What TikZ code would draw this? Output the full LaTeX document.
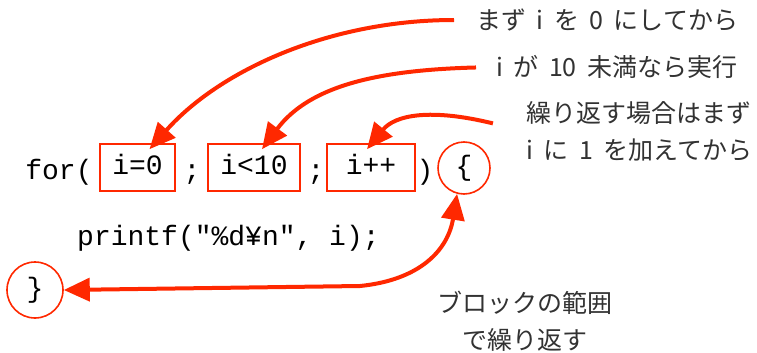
\documentclass[tikz,border=0pt]{standalone}
\usepackage{fontspec}
\setmainfont{Noto Sans CJK JP}
\newfontfamily\codefont{Liberation Mono}
\usetikzlibrary{arrows.meta}
\definecolor{loopred}{RGB}{255,40,0}
\definecolor{notegray}{RGB}{50,50,50}
\newcommand\gap{\hspace{.42em}}
\begin{document}
\begin{tikzpicture}[x=1pt, y=-1pt, >={Triangle[length=26pt,width=23pt]},
  code/.style={inner sep=0pt, font=\codefont\fontsize{28}{30}\selectfont, text height=20pt, text depth=6pt},
  codebox/.style={code, draw=loopred, line width=1.6pt, minimum height=47pt},
  brace/.style={code, draw=loopred, line width=1.6pt, circle, minimum size=52pt},
  note/.style={inner sep=2pt, text=notegray, font=\fontsize{25}{37}\selectfont},
  pointer/.style={->, draw=loopred, line width=4pt}]
\useasboundingbox (0,0) rectangle (757,353);
% the for statement
\node[code] (forkw) at (59,172) {for(};
\node[codebox, minimum width=75pt] (init) at (137.5,167.5) {i=0};
\node[code] (semi1) at (192,172) {;};
\node[codebox, minimum width=92pt] (cond) at (254,167.5) {i<10};
\node[code] (semi2) at (316,172) {;};
\node[codebox, minimum width=88pt] (step) at (371,167.5) {i++};
\node[code] (close) at (425,172) {)};
\node[brace] (lbrace) at (464,168) {\{};
\node[code, anchor=west] (body) at (77,238) {printf("\%d¥n", i);};
\node[brace, minimum size=56pt] (rbrace) at (35,290) {\}};
% notes
\node[note, anchor=west] (initnote) at (474,20) {まず\gap i\gap を\gap 0\gap にしてから};
\node[note, anchor=west] (condnote) at (494,67) {i\gap が\gap 10\gap 未満なら実行};
\node[note, anchor=west, align=left] (stepnote) at (524,131) {繰り返す場合はまず\\i\gap に\gap 1\gap を加えてから};
\node[note, align=center] (blocknote) at (525,321) {ブロックの範囲\\で繰り返す};
% arrows
\draw[pointer, shorten <=20pt] (initnote.west) .. controls (330,20) and (220,70) .. ([xshift=12pt, yshift=-6pt]init.north);
\draw[pointer, shorten <=18pt] (condnote.west) .. controls (380,70) and (310,85) .. ([xshift=8pt, yshift=-6pt]cond.north);
\draw[pointer, shorten <=32pt] (stepnote.west) .. controls (430,108) and (395,115) .. ([xshift=-4pt, yshift=-6pt]step.north);
\draw[pointer, <->] (rbrace.east) -- (360,286) .. controls (420,280) and (448,250) .. (lbrace.-105);
\end{tikzpicture}
\end{document}
